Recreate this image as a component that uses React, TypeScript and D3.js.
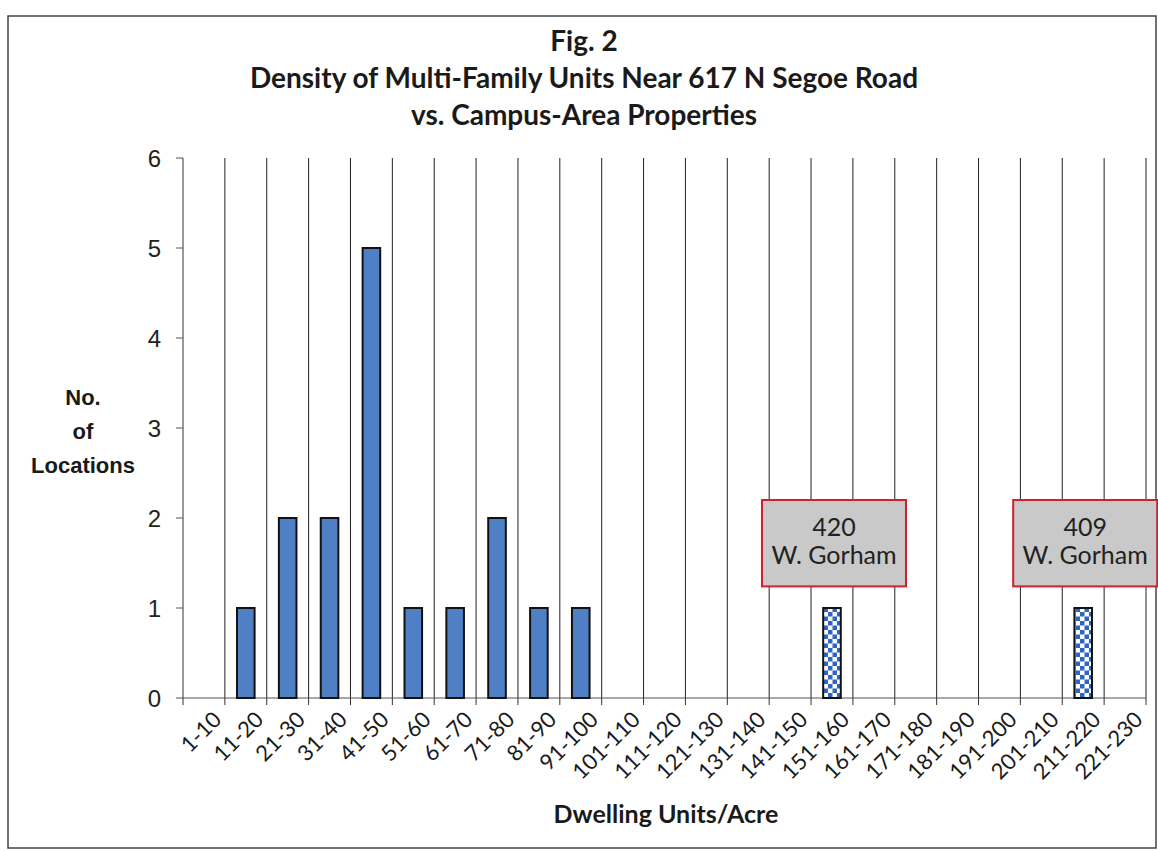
import * as d3 from "d3";

const categories = [
  "1-10", "11-20", "21-30", "31-40", "41-50", "51-60", "61-70", "71-80", "81-90", "91-100",
  "101-110", "111-120", "121-130", "131-140", "141-150", "151-160", "161-170", "171-180",
  "181-190", "191-200", "201-210", "211-220", "221-230",
];
const counts = [0, 1, 2, 2, 5, 1, 1, 2, 1, 1, 0, 0, 0, 0, 0, 1, 0, 0, 0, 0, 0, 1, 0];
const highlighted = ["151-160", "211-220"];
const callouts = [
  { cat: "151-160", lines: ["420", "W. Gorham"] },
  { cat: "211-220", lines: ["409", "W. Gorham"] },
];
const yTicks = [0, 1, 2, 3, 4, 5, 6];
const titleLines = ["Fig. 2", "Density of Multi-Family Units Near 617 N Segoe Road", "vs. Campus-Area Properties"];

const W = 1158;
const H = 851;
const m = { left: 183, right: 1146, top: 158, bottom: 698 };
const calibri = "Lato, 'Open Sans', sans-serif";
const arial = "'Liberation Sans', Arial, sans-serif";

export default function App() {
  const x = d3.scaleBand<string>().domain(categories).range([m.left, m.right]).paddingInner(0);
  const y = d3.scaleLinear().domain([0, 6]).range([m.bottom, m.top]);
  const bw = x.bandwidth();
  const barW = bw * 0.42;
  const bounds = categories.map((c) => x(c)! + bw);

  return (
    <div style={{ position: "absolute", left: 0, top: 0 }}>
      <svg width={W} height={H} style={{ display: "block", background: "#fff" }}>
        <defs>
          <pattern id="checker" width={9} height={9} patternUnits="userSpaceOnUse">
            <rect width={9} height={9} fill="#ffffff" />
            <rect width={4.5} height={4.5} fill="#2f66c4" />
            <rect x={4.5} y={4.5} width={4.5} height={4.5} fill="#2f66c4" />
          </pattern>
        </defs>
        <rect x={8} y={16} width={1148} height={832} fill="none" stroke="#444" strokeWidth={1.5} />

        {titleLines.map((t, i) => (
          <text key={t} x={584} y={51 + i * 37} textAnchor="middle" fontFamily={calibri}
            fontWeight="bold" fontSize={28} fill="#1a1a1a">{t}</text>
        ))}

        {/* gridlines */}
        {bounds.map((b, i) => (
          <line key={i} x1={b} x2={b} y1={m.top} y2={m.bottom} stroke="#222" strokeWidth={1} />
        ))}

        {/* axes */}
        <line x1={m.left} x2={m.left} y1={m.top} y2={m.bottom} stroke="#555" strokeWidth={1.2} />
        <line x1={m.left} x2={m.right} y1={m.bottom} y2={m.bottom} stroke="#555" strokeWidth={1.2} />
        {yTicks.map((t) => (
          <g key={t}>
            <line x1={m.left - 7} x2={m.left} y1={y(t)} y2={y(t)} stroke="#555" />
            <text x={m.left - 22} y={y(t)} dy="0.36em" textAnchor="end" fontFamily={arial}
              fontSize={24} fill="#222">{t}</text>
          </g>
        ))}
        {[m.left, ...bounds].map((b, i) => (
          <line key={i} x1={b} x2={b} y1={m.bottom} y2={m.bottom + 7} stroke="#333" />
        ))}

        {/* bars */}
        {categories.map((c, i) =>
          counts[i] > 0 ? (
            <rect key={c} x={x(c)! + (bw - barW) / 2} y={y(counts[i])} width={barW}
              height={y(0) - y(counts[i])}
              fill={highlighted.includes(c) ? "url(#checker)" : "#4f7fc4"}
              stroke="#111" strokeWidth={2} />
          ) : null
        )}

        {/* callouts */}
        {callouts.map((co) => {
          const cx = x(co.cat)! + bw / 2 + 2;
          const top = y(2.2);
          const bot = y(1.24);
          return (
            <g key={co.cat}>
              <rect x={cx - 72} y={top} width={144} height={bot - top} fill="#c9c9c9"
                stroke="#d0202e" strokeWidth={2} />
              {co.lines.map((l, j) => (
                <text key={j} x={cx} y={top + 36 + j * 28} textAnchor="middle" fontFamily={calibri}
                  fontSize={25} fill="#222">{l}</text>
              ))}
            </g>
          );
        })}

        {/* x tick labels */}
        {categories.map((c) => (
          <text key={c} transform={`translate(${x(c)! + bw / 2 + 8},${m.bottom + 12}) rotate(-45)`}
            textAnchor="end" dy="0.7em" fontFamily={calibri} fontSize={22} fill="#1a1a1a">{c}</text>
        ))}

        <text x={666} y={823} textAnchor="middle" fontFamily={calibri} fontWeight="bold"
          fontSize={25} fill="#1a1a1a">Dwelling Units/Acre</text>

        {["No.", "of", "Locations"].map((t, i) => (
          <text key={t} x={83} y={405 + i * 34} textAnchor="middle" fontFamily={arial}
            fontWeight="bold" fontSize={22} fill="#1a1a1a">{t}</text>
        ))}
      </svg>
    </div>
  );
}
